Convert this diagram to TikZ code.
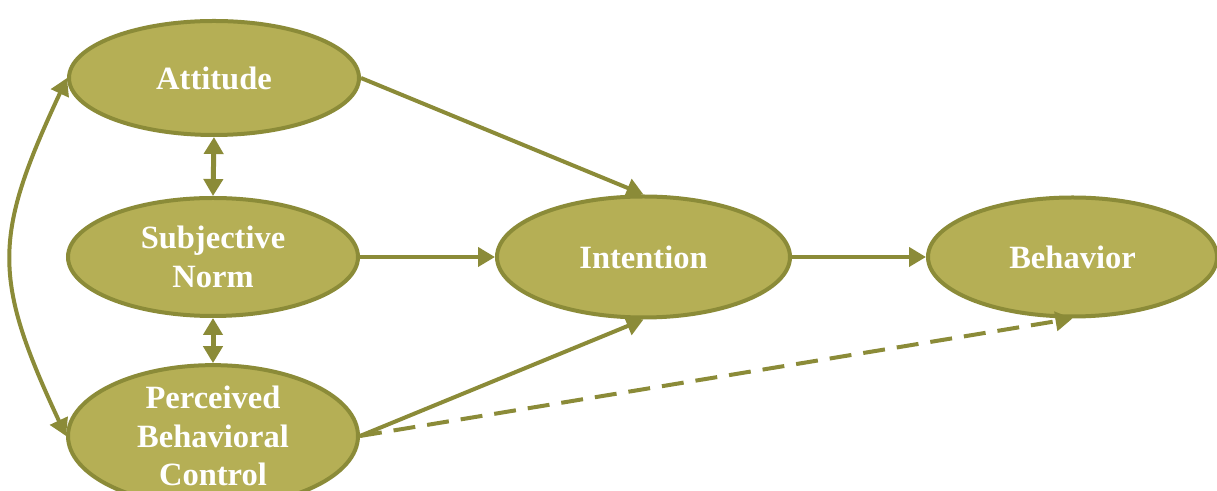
\documentclass[tikz,border=0pt]{standalone}
\usepackage{fontspec}
\setmainfont{Liberation Serif}
\usepackage{tikz}
\usetikzlibrary{shapes.geometric}
\usetikzlibrary{arrows.meta}

\definecolor{olivefill}{HTML}{B5AF55}
\definecolor{olivedraw}{HTML}{8B8B38}

\begin{document}
\begin{tikzpicture}[>/.tip={Triangle[length=0.34cm,width=0.38cm]},
	oval/.style={draw=olivedraw,fill=olivefill,line width=0.08cm,shape=ellipse,
		minimum width=5.8cm,minimum height=2.36cm,inner sep=0pt,
		text=white,font=\fontsize{18.5}{22}\selectfont\bfseries,align=center},
	flow/.style={draw=olivedraw,line width=0.08cm}]
	\useasboundingbox (0,0) rectangle (24.34,9.82);
	\draw (4.28,8.26) node(att) [oval,minimum height=2.28cm] {Attitude};
	\draw (4.26,4.68) node(sn) [oval] {Subjective\\Norm};
	\draw (4.26,1.1) node(pbc) [oval,minimum height=2.4cm] {Perceived\\Behavioral\\Control};
	\draw (12.87,4.68) node(int) [oval,minimum width=5.86cm,minimum height=2.42cm] {Intention};
	\draw (21.45,4.68) node(beh) [oval,minimum width=5.78cm,minimum height=2.38cm] {Behavior};
	\draw[flow,->] (att.east) -- (int.north);
	\draw[flow,->] (sn.east) -- (int.west);
	\draw[flow,->] (pbc.east) -- (int.south);
	\draw[flow,->] (int.east) -- (beh.west);
	\draw[flow,->,dash pattern=on 0.44cm off 0.24cm] (pbc.east) -- (beh.south);
	\draw[flow,<->,line width=0.1cm] (att.south) -- (sn.north);
	\draw[flow,<->,line width=0.1cm] (sn.south) -- (pbc.north);
	\draw[flow,<->] (att.west) to[out=245,in=115,looseness=1.25] (pbc.west);
\end{tikzpicture}
\end{document}
